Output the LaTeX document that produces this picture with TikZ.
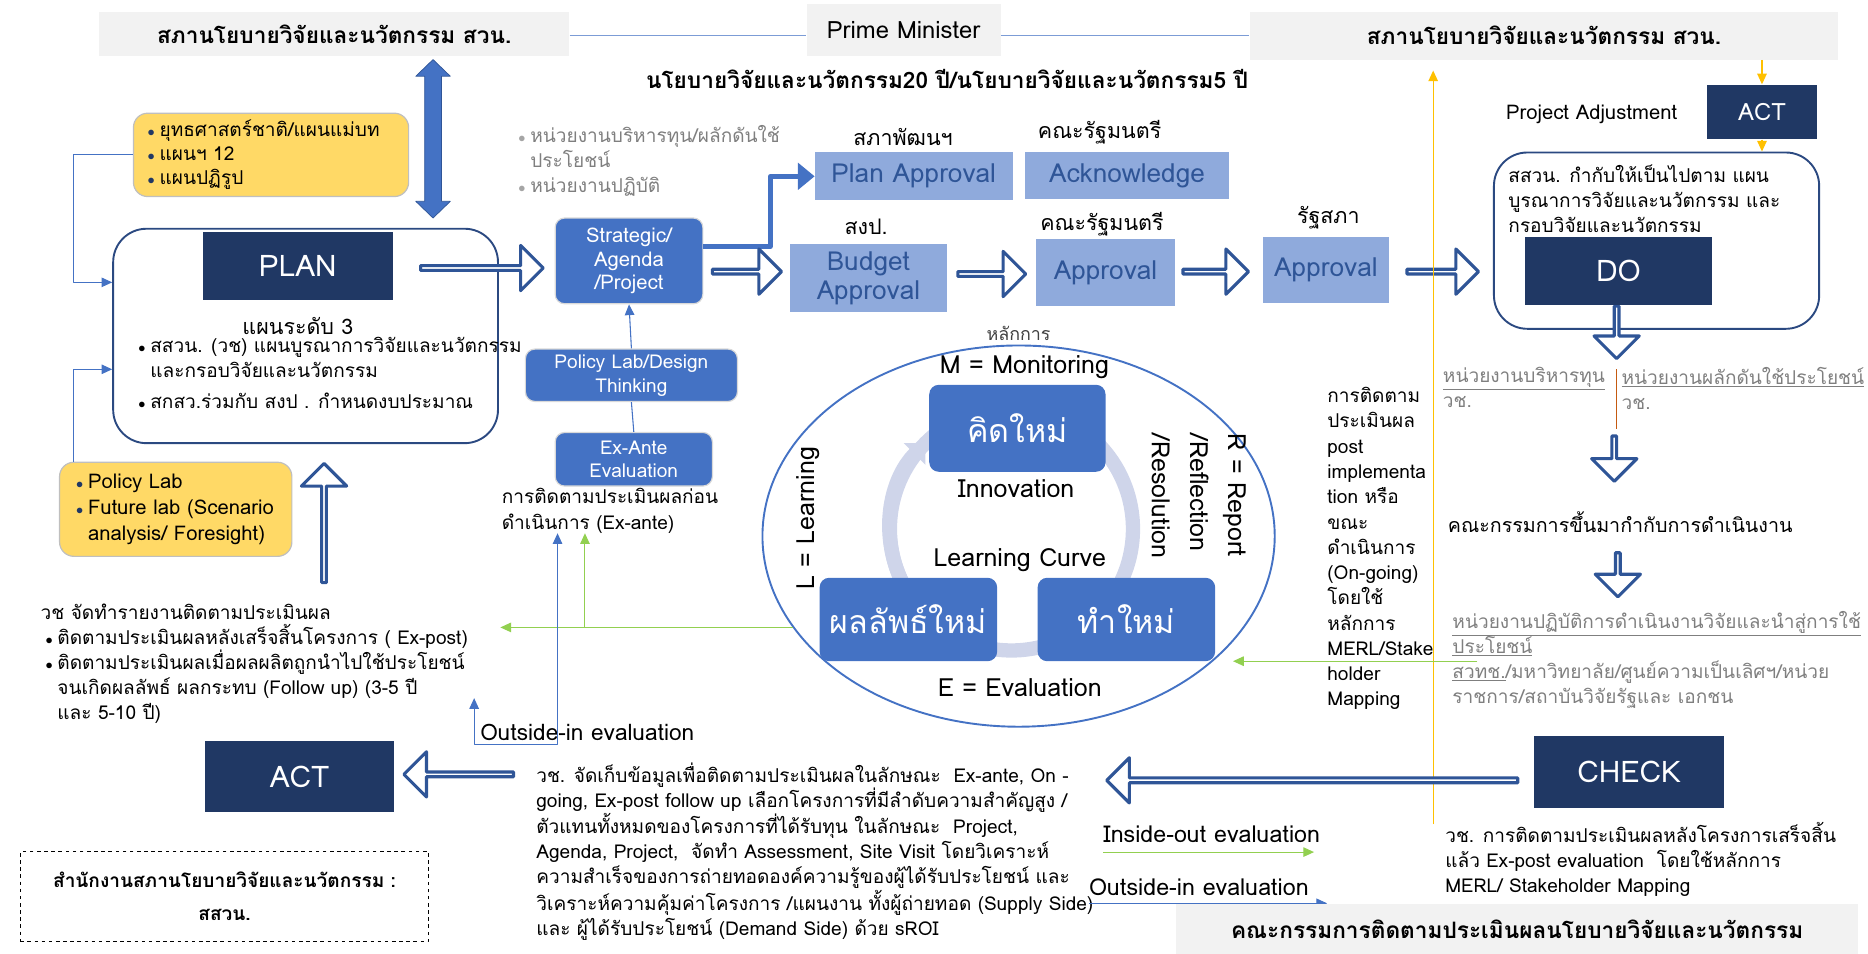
\documentclass[tikz,border=0pt]{standalone}
\usepackage{fontspec}
\setmainfont{Loma}[Script=Thai]
\usetikzlibrary{arrows.meta,shapes.arrows,shapes.geometric}

\definecolor{navy}{HTML}{203864}
\definecolor{midblue}{HTML}{4472C4}
\definecolor{paleblue}{HTML}{8FAADC}
\definecolor{boxtext}{HTML}{2F5597}
\definecolor{gold}{HTML}{FFD966}
\definecolor{bannergray}{HTML}{F2F2F2}
\definecolor{ringcol}{HTML}{CFD5EA}
\definecolor{lightgreen}{HTML}{92D050}
\definecolor{amber}{HTML}{FFC000}
\definecolor{greytext}{HTML}{7F7F7F}
\definecolor{rust}{HTML}{C55A11}

\newcommand{\fsz}[2]{\fontsize{#1}{#2}\selectfont}
\newcommand{\bul}{\makebox[10pt][l]{\textcolor{navy}{\fsz{12}{12}$\bullet$}}}
\newcommand{\blk}{\makebox[10pt][l]{\fsz{12}{12}$\bullet$}}
\newcommand{\nob}{\hspace*{10pt}}

\begin{document}
\begin{tikzpicture}[x=1pt, y=-1pt, line join=round,
  banner/.style={fill=bannergray, inner sep=0, font=\fsz{19}{22}\bfseries},
  txt/.style={inner sep=0, align=left, font=\fsz{16}{21}},
  gtxt/.style={txt, text=greytext},
  darkbox/.style={fill=navy, text=white, inner sep=0, font=\fsz{25}{28}},
  bluebox/.style={fill=midblue, draw=black!15, line width=1, rounded corners=8, text=white, align=center, inner sep=0},
  apprbox/.style={fill=paleblue, text=boxtext, align=center, inner sep=0, font=\fsz{22}{25}},
  goldbox/.style={fill=gold, draw=black!25, line width=1, rounded corners=12, inner sep=0, align=left},
  outline/.style={draw=navy!70!midblue, line width=1.6, rounded corners=28},
  hollow/.style={single arrow, draw=boxtext, line width=2.6, fill=white, inner sep=0,
    single arrow head extend=11pt, minimum width=38},
  bluearrow/.style={draw=midblue, line width=0.9, -{Triangle[length=9pt,width=8pt]}},
  greenarrow/.style={draw=lightgreen, line width=0.9, -{Triangle[length=9pt,width=8pt]}},
  amberarrow/.style={draw=amber, line width=1.1, -{Triangle[length=9pt,width=8pt]}},
]
\useasboundingbox (0,0) rectangle (1568,800);

% top row
\node[banner, minimum width=395, minimum height=37] (snleft) at (280.5,28.5) {สภานโยบายวิจัยและนวัตกรรม สวน.};
\node[banner, font=\fsz{20}{22}\mdseries, minimum width=163, minimum height=44] (pm) at (758.5,25) {Prime Minister};
\node[banner, minimum width=494, minimum height=40] (snright) at (1296,30) {สภานโยบายวิจัยและนวัตกรรม สวน.};
\draw[midblue!70, line width=0.9] (snleft.east |- 0,30) -- (pm.west |- 0,30);
\draw[midblue!70, line width=0.9] (pm.east |- 0,30) -- (snright.west |- 0,30);
\node[font=\fsz{19}{22}\bfseries, inner sep=0] (policy) at (795,66) {นโยบายวิจัยและนวัตกรรม20 ปี/นโยบายวิจัยและนวัตกรรม5 ปี};

% plan side
\filldraw[fill=midblue, draw=boxtext, line width=0.6] (363.5,50) -- (378,64) -- (370.5,64) -- (370.5,169) -- (378,169)
  -- (363.5,183) -- (349,169) -- (356.5,169) -- (356.5,64) -- (349,64) -- cycle;
\node[goldbox, minimum width=231, minimum height=70, text width=207, font=\fsz{16}{20}] (goldtop) at (227.5,130)
  {\bul ยุทธศาสตร์ชาติ/แผนแม่บท\\\bul แผนฯ 12\\\bul แผนปฏิรูป};
\node[outline, minimum width=323, minimum height=180] (planbox) at (256.5,282) {};
\node[darkbox, minimum width=160, minimum height=57] (plan) at (250,223.5) {PLAN};
\node[txt, font=\fsz{18}{21}] (level) at (250,274) {แผนระดับ 3};
\node[txt, anchor=north west] (planlist) at (116,283)
  {\blk สสวน. (วช) แผนบูรณาการวิจัยและนวัตกรรม\\\nob และกรอบวิจัยและนวัตกรรม\\[5pt]\blk สกสว.ร่วมกับ สงป . กำหนดงบประมาณ};
\node[goldbox, minimum width=195, minimum height=79, text width=167, font=\fsz{17}{22}] (goldbot) at (147.5,427.5)
  {\bul Policy Lab\\\bul Future lab (Scenario\\\nob analysis/ Foresight)};
\draw[bluearrow] (goldtop.west) -| (62,237) -- (planbox.west |- 0,237);
\draw[bluearrow] (goldbot.north -| 62,0) -- (62,310) -- (planbox.west |- 0,310);
\node[hollow, shape border rotate=90, minimum height=100] (upact) at (272,440) {};
\node[hollow, minimum height=103] (tostrat) at (403.5,225) {};

% strategic column
\node[gtxt, anchor=north west] (units) at (435,105)
  {\textcolor{greytext!70}{\blk}หน่วยงานบริหารทุน/ผลักดันใช้\\\nob ประโยชน์\\\textcolor{greytext!70}{\blk}หน่วยงานปฏิบัติ};
\node[bluebox, minimum width=124, minimum height=72, font=\fsz{17}{20}] (strategic) at (528,219) {Strategic/\\Agenda\\/Project};
\node[bluebox, minimum width=178, minimum height=44, font=\fsz{16}{20}] (policylab) at (530,315) {Policy Lab/Design\\Thinking};
\node[bluebox, minimum width=132, minimum height=45, font=\fsz{16}{20}] (exante) at (532,385.5) {Ex-Ante\\Evaluation};
\draw[midblue, line width=0.9] (exante.north) -- (policylab.south);
\draw[bluearrow] (policylab.north) -- (strategic.south);
\node[txt, anchor=north west] (exantetxt) at (421,410) {การติดตามประเมินผลก่อน\\ดำเนินการ (Ex-ante)};

% approval chain
\node[txt, font=\fsz{18}{21}] (nesdc) at (758,115) {สภาพัฒนฯ};
\node[apprbox, minimum width=166, minimum height=40] (planappr) at (767,148) {Plan Approval};
\node[txt, font=\fsz{18}{21}] (cabinet1) at (923,111) {คณะรัฐมนตรี};
\node[apprbox, minimum width=172, minimum height=39] (ack) at (946,147.5) {Acknowledge};
\draw[midblue, line width=4, -{Triangle[length=14pt,width=22pt]}] ([yshift=12pt]strategic.east) -- ++(56,0) |- (planappr.west);
\node[hollow, minimum height=58] (tobudget) at (626,228) {};
\node[txt, font=\fsz{18}{21}] (bureau) at (727,190) {สงป.};
\node[apprbox, minimum width=132, minimum height=57, font=\fsz{22}{24}] (budget) at (729,233.5) {Budget\\Approval};
\node[hollow, minimum height=57] (tocab) at (831.5,230) {};
\node[txt, font=\fsz{18}{21}] (cabinet2) at (925,188) {คณะรัฐมนตรี};
\node[apprbox, minimum width=116, minimum height=56] (cabappr) at (928,229) {Approval};
\node[hollow, minimum height=55] (toparl) at (1019.5,228) {};
\node[txt, font=\fsz{18}{21}] (parliament) at (1115,183) {รัฐสภา};
\node[apprbox, minimum width=106, minimum height=55] (parlappr) at (1113,226.5) {Approval};
\node[hollow, minimum height=60] (todo) at (1210,228) {};

% do side
\node[txt, font=\fsz{17}{20}] (adjust) at (1336,96) {Project Adjustment};
\node[darkbox, minimum width=92, minimum height=46, font=\fsz{20}{22}] (acttop) at (1479,94) {ACT};
\node[outline, minimum width=273, minimum height=148] (dobox) at (1390.5,202) {};
\node[txt, anchor=north west] (dotxt) at (1266,138) {สสวน. กำกับให้เป็นไปตาม แผน\\บูรณาการวิจัยและนวัตกรรม และ\\กรอบวิจัยและนวัตกรรม};
\node[hollow, shape border rotate=270, minimum height=44] (dodown) at (1357,278) {};
\node[darkbox, minimum width=157, minimum height=57] (do) at (1358.5,227.5) {DO};
\draw[amberarrow] (snright.south -| acttop.north) -- (acttop.north);
\draw[amberarrow] (acttop.south) -- (acttop.south |- dobox.north);
\draw[amberarrow, shorten >=9pt] (1203,692) -- (snright.south -| 1203,0);

\node[gtxt, anchor=north west] (fundunit) at (1211,308) {\underline{หน่วยงานบริหารทุน}\\วช.};
\draw[rust, line width=1] (1357,310) -- (1357,360);
\node[gtxt, anchor=north west] (pushunit) at (1361,308) {\underline{หน่วยงานผลักดันใช้ประโยชน์}\\วช.};
\node[hollow, shape border rotate=270, minimum height=38] (down1) at (1355,384) {};
\node[txt, font=\fsz{16.5}{21}] (committee) at (1360,438) {คณะกรรมการขึ้นมากำกับการดำเนินงาน};
\node[hollow, shape border rotate=270, minimum height=37] (down2) at (1358,481.5) {};
\node[gtxt, anchor=north west] (opunits) at (1219,513)
  {\underline{หน่วยงานปฏิบัติการดำเนินงานวิจัยและนำสู่การใช้}\\\underline{ประโยชน์}\\\underline{สวทช.}/มหาวิทยาลัย/ศูนย์ความเป็นเลิศฯ/หน่วย\\ราชการ/สถาบันวิจัยรัฐและ เอกชน};
\node[txt, anchor=north west, font=\fsz{16}{21.2}] (merl) at (1114,325)
  {การติดตาม\\ประเมินผล\\post\\implementa\\tion หรือ\\ขณะ\\ดำเนินการ\\(On-going)\\โดยใช้\\หลักการ\\MERL/Stake\\holder\\Mapping};

% learning cycle
\node[ellipse, draw=midblue, line width=1.6, minimum width=430, minimum height=320, inner sep=0] (cycle) at (855,450) {};
\draw[ringcol, line width=12] (849,444) circle[radius=102];
\draw[ringcol, line width=12, -{Triangle[length=13pt,width=25pt]}] (849,444) ++(150:102) arc (150:225:102);
\node[txt, font=\fsz{15}{18}, text=black!75] (principle) at (855,280) {หลักการ};
\node[txt, font=\fsz{21}{24}] (mon) at (860,308) {M = Monitoring};
\node[bluebox, draw=none, minimum width=148, minimum height=73, font=\fsz{27}{30}] (think) at (854,359.5) {คิดใหม่};
\node[bluebox, draw=none, minimum width=149, minimum height=70, font=\fsz{27}{30}] (result) at (762.5,520) {ผลลัพธ์ใหม่};
\node[bluebox, draw=none, minimum width=149, minimum height=70, font=\fsz{27}{30}] (redo) at (945.5,520) {ทำใหม่};
\node[txt, font=\fsz{21}{24}] (innov) at (853,410) {Innovation};
\node[txt, font=\fsz{21}{24}] (curve) at (856,470) {Learning Curve};
\node[txt, font=\fsz{21}{24}] (evalu) at (856,577) {E = Evaluation};
\node[txt, font=\fsz{21}{24}, rotate=90] (learn) at (678,435) {L = Learning};
\node[txt, font=\fsz{21}{32}, rotate=-90, anchor=north west] (rrr) at (1046,364) {R = Report\\/Reflection\\/Resolution};
\draw[greenarrow] (1240,555) -- (1035,555);
\draw[greenarrow] (cycle.202) -- (cycle.202 -| 420,0);
\draw[greenarrow] (cycle.202 -| 491,0) -- (exantetxt.south -| 491,0);

% act side
\node[txt, anchor=north west] (report) at (34,507)
  {วช จัดทำรายงานติดตามประเมินผล\\\hspace*{4pt}\blk ติดตามประเมินผลหลังเสร็จสิ้นโครงการ ( Ex-post)\\\hspace*{4pt}\blk ติดตามประเมินผลเมื่อผลผลิตถูกนำไปใช้ประโยชน์\\\hspace*{4pt}\nob จนเกิดผลลัพธ์ ผลกระทบ (Follow up) (3-5 ปี\\\hspace*{4pt}\nob และ 5-10 ปี)};
\node[txt, anchor=west, font=\fsz{19}{21}] (outin1) at (403,615) {Outside-in evaluation};
\draw[draw=midblue, line width=0.9, {Triangle[length=9pt,width=8pt]}-{Triangle[length=9pt,width=8pt]}]
  (398,586) -- (398,625) -- (468,625) -- (exantetxt.south -| 468,0);
\node[darkbox, minimum width=159, minimum height=60] (actbot) at (251.5,652) {ACT};
\node[hollow, shape border rotate=180, minimum height=92] (toact) at (386,650) {};
\node[txt, anchor=north west] (collect) at (450,640)
  {วช. จัดเก็บข้อมูลเพื่อติดตามประเมินผลในลักษณะ \ Ex-ante, On -\\going, Ex-post follow up เลือกโครงการที่มีลำดับความสำคัญสูง /\\ตัวแทนทั้งหมดของโครงการที่ได้รับทุน ในลักษณะ \ Project,\\Agenda, Project, \ จัดทำ Assessment, Site Visit โดยวิเคราะห์\\ความสำเร็จของการถ่ายทอดองค์ความรู้ของผู้ได้รับประโยชน์ และ\\วิเคราะห์ความคุ้มค่าโครงการ /แผนงาน ทั้งผู้ถ่ายทอด (Supply Side)\\และ ผู้ได้รับประโยชน์ (Demand Side) ด้วย sROI};

% check side
\node[darkbox, minimum width=159, minimum height=60] (check) at (1367.5,648) {CHECK};
\node[hollow, shape border rotate=180, minimum height=345] (tocollect) at (1102.5,655) {};
\node[txt, anchor=west, font=\fsz{19.5}{21}] (inout) at (926,700) {Inside-out evaluation};
\draw[greenarrow] ([yshift=-8pt]inout.south west) -- ++(177,0);
\node[txt, anchor=west, font=\fsz{19.5}{21}] (outin2) at (914,745) {Outside-in evaluation};
\draw[bluearrow] ([yshift=-6pt]outin2.south west) -- ++(200,0);
\node[txt, anchor=north west] (checktxt) at (1213,690)
  {วช. การติดตามประเมินผลหลังโครงการเสร็จสิ้น\\แล้ว Ex-post evaluation \ โดยใช้หลักการ\\MERL/ Stakeholder Mapping};
\node[banner, minimum width=573, minimum height=42] (evalcomm) at (1273.5,780) {คณะกรรมการติดตามประเมินผลนโยบายวิจัยและนวัตกรรม};
\node[draw, dashed, line width=1, minimum width=343, minimum height=75, align=center, font=\fsz{16}{28}\bfseries] (office) at (188.5,752.5)
  {สำนักงานสภานโยบายวิจัยและนวัตกรรม :\\สสวน.};

\end{tikzpicture}
\end{document}
